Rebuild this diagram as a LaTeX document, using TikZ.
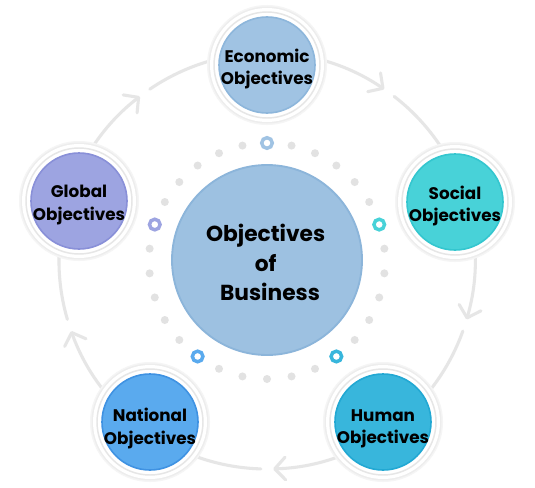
\documentclass[tikz,border=0pt]{standalone}
\usepackage{fontspec}
\setmainfont{Poppins}
\usetikzlibrary{arrows.meta}
\definecolor{cycgrey}{HTML}{E6E6E6}
\definecolor{dotgrey}{HTML}{E2E2E2}
\definecolor{shadowA}{HTML}{F5F5F5}
\definecolor{shadowB}{HTML}{EDEDED}
\definecolor{ringline}{HTML}{E6E6E6}
\definecolor{ecoF}{HTML}{A0C3E3}\definecolor{ecoD}{HTML}{8DB6DB}
\definecolor{socF}{HTML}{48D2D8}\definecolor{socD}{HTML}{34C6CF}
\definecolor{gloF}{HTML}{9DA4E1}\definecolor{gloD}{HTML}{8990D8}
\definecolor{natF}{HTML}{5AAAEE}\definecolor{natD}{HTML}{3F92E2}
\definecolor{humF}{HTML}{38B6DC}\definecolor{humD}{HTML}{22A8D3}
\definecolor{cenF}{HTML}{9DC1E1}\definecolor{cenD}{HTML}{8CB5DA}
\tikzset{
  cycline/.style={draw=cycgrey, line width=2.3pt, line cap=round,
    -{Straight Barb[length=8pt,width=17pt,line cap=round,line join=round]}},
  objnode/.style={circle, minimum size=72pt, inner sep=0pt, line width=1.2pt},
  objtext/.style={align=center, inner sep=0pt, font=\bfseries\fontsize{12.6}{17}\selectfont},
  centernode/.style={circle, minimum size=142.5pt, inner sep=0pt, line width=1.4pt},
  centertext/.style={align=center, inner sep=0pt, font=\bfseries\fontsize{16.3}{22}\selectfont},
  marker/.style={line width=2.6pt},
  dotmark/.style={fill=dotgrey}
}
\newcommand{\ringbg}[1]{%
  \fill[shadowA] (#1) circle[radius=60];
  \fill[shadowB] (#1) circle[radius=58.5];
  \fill[white] (#1) circle[radius=57];
  \draw[ringline, line width=1.1pt] (#1) circle[radius=53];
}
\begin{document}
\begin{tikzpicture}[x=0.75pt,y=0.75pt]
\useasboundingbox[fill=white] (0,0) rectangle (535,487);
\coordinate (C) at (267,226);
\coordinate (Cd) at (267,226);
% outer cycle arcs with arrows
\foreach \a in {90,18,-54,-126,-198} {
  \pgfmathsetmacro{\sa}{\a+34.3}
  \pgfmathsetmacro{\ea}{\a-34.3}
  \draw[cycline] ([shift={(\sa:208)}]C) arc[start angle=\sa, end angle=\ea, radius=208];
}
% dotted ring
\foreach \k in {1,...,5,7,8,...,11,13,14,...,17,19,20,...,23,25,26,...,29} {
  \pgfmathsetmacro{\ang}{90+12*\k}
  \fill[dotmark] ([shift={(\ang:118)}]Cd) circle[radius=4];
}
\draw[marker, draw=ecoF] ([shift={(90:118)}]Cd) circle[radius=5.3];
\draw[marker, draw=gloF] ([shift={(162:118)}]Cd) circle[radius=5.3];
\draw[marker, draw=natF] ([shift={(234:118)}]Cd) circle[radius=5.3];
\draw[marker, draw=humF] ([shift={(306:118)}]Cd) circle[radius=5.3];
\draw[marker, draw=socF] ([shift={(18:118)}]Cd) circle[radius=5.3];
% outer nodes
\coordinate (pe) at (267,422);
\coordinate (ps) at (455,285);
\coordinate (pg) at (79,286);
\coordinate (pn) at (150,65);
\coordinate (ph) at (383,65);
\ringbg{pe}\ringbg{ps}\ringbg{pg}\ringbg{pn}\ringbg{ph}
\node[objnode, fill=ecoF, draw=ecoD] (eco) at (pe) {};
\node[objnode, fill=socF, draw=socD] (soc) at (ps) {};
\node[objnode, fill=gloF, draw=gloD] (glo) at (pg) {};
\node[objnode, fill=natF, draw=natD] (nat) at (pn) {};
\node[objnode, fill=humF, draw=humD] (hum) at (ph) {};
\node[objtext] (ecot) at ([yshift=-3]eco.center) {Economic\\Objectives};
\node[objtext] (soct) at ([yshift=-3]soc.center) {Social\\Objectives};
\node[objtext] (glot) at ([yshift=-3]glo.center) {Global\\Objectives};
\node[objtext] (natt) at ([yshift=-5]nat.center) {National\\Objectives};
\node[objtext] (humt) at ([yshift=-5]hum.center) {Human\\Objectives};
% center
\node[centernode, fill=cenF, draw=cenD] (cen) at (267,227) {};
\node[centertext] (cent) at ([xshift=-1,yshift=-2]cen.center) {Objectives\\of\\\hspace{0.4em}Business};
\end{tikzpicture}
\end{document}
